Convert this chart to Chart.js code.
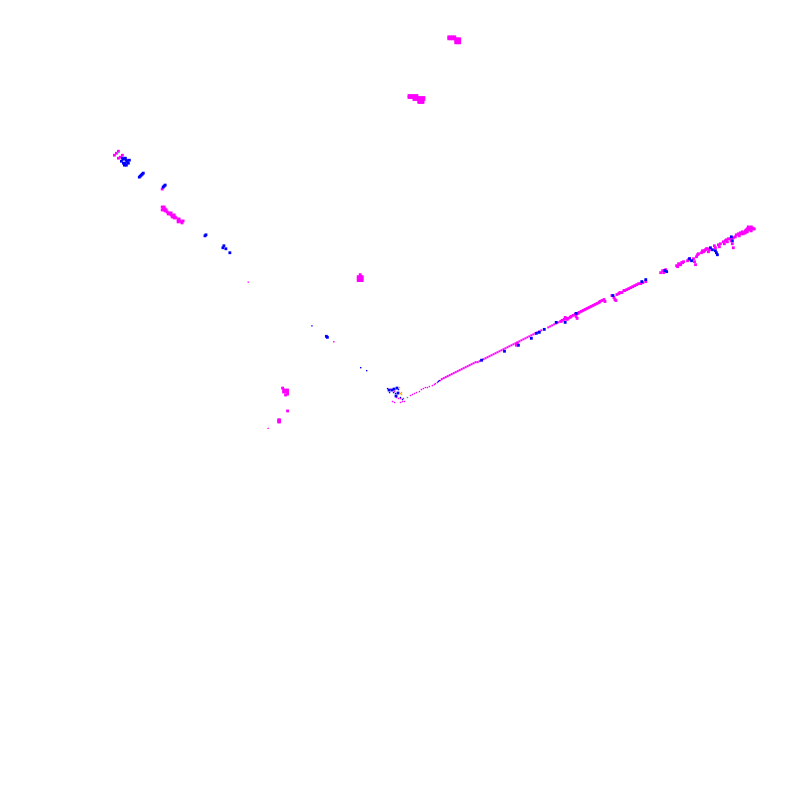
<!DOCTYPE html>
<html><head><meta charset="utf-8">
<script src="https://cdn.jsdelivr.net/npm/chart.js@4"></script>
<style>html,body{margin:0;padding:0;background:#fff}canvas{display:block}</style>
</head><body><canvas id="c" width="800" height="800"></canvas>
<script>
const magentaLineX = [442,444,446,448,450,452,454,456,458,460,462,464,466,468,470,472,474,476,478,480,482,484,486,488,490,492,494,496,498,500,502,504,506,508,510,512,514,516,518,520,522,524,526,528,530,532,534,536,538,540,542,549,551,553,555,557,559,561];
const magentaLineY = [379,378,377,376,375,374,373,372,371,370,369,368,367,366,365,364,363,362,362,361,360,359,358,357,356,355,354,353,352,351,350,349,348,347,346,345,344,343,342,341,340,339,338,337,336,335,334,333,332,331,330,327,326,325,324,323,322,321];

const magentaX = [517,518,
 562,565,566,568,571,574,577,577,578,579,582,586,590,594,598,601,605,606,613,615,616,617,620,623,626,630,634,638,642,647,
 563,567,569,572,576,580,584,588,592,596,600,603,618,621,625,628,632,636,640,644,
 662,664,665,667,678,680,682,684,689,691,695,696,697,699,698,703,704,707,709,710,716,717,720,721,725,726,728,729,732,733,735,734,735,740,741,744,746,747,749,751,753,755,749,751,753,756,747,743,
 679,681,683,685,690,700,705,706,708,711,722,727,730,737,738,742,745,748,750,752,754,750,
 113,115,117,117,119,121,161,162,163,164,166,168,169,170,172,173,174,177,179,180,182,
 161,163,161,164,165,167,170,171,173,175,178,181,177,
 449,451,453,455,449,451,453,455,456,458,460,456,458,460,456,458,460,
 409,411,413,415,417,409,411,413,415,417,414,416,418,420,422,424,414,416,418,420,422,424,419,421,423,419,421,423,
 358,360,362,358,360,362,358,360,362,360,
 283,285,287,283,285,287,285,282,287,287,278,279,278,279];
const magentaY = [345,343,
 321,319,317,319,317,315,313,316,318,313,311,309,307,305,303,301,299,301,295,297,299,300,293,292,290,288,286,284,283,281,
 320,318,318,316,314,312,310,308,306,304,302,300,294,292,290,289,287,285,283,282,
 272,270,272,269,265,263,264,262,260,258,258,261,264,254,256,252,250,249,248,251,245,247,244,246,241,243,239,241,238,240,237,243,247,233,235,231,232,230,231,229,230,228,228,227,226,228,232,233,
 266,264,262,261,259,253,251,250,248,249,243,240,238,236,234,232,233,229,229,228,227,226,
 154,152,150,157,156,154,188,207,209,208,211,212,213,214,215,217,216,219,220,221,220,
 206,206,209,210,209,213,212,216,214,217,218,222,221,
 35,35,35,35,37,37,37,37,37,37,37,39,39,39,41,41,41,
 94,94,94,94,94,96,96,96,96,96,96,96,96,96,96,96,98,98,98,98,98,98,100,100,100,101,101,101,
 276,276,276,278,278,278,280,280,280,274,
 390,390,390,392,392,392,395,388,394,411,420,420,422,422];

const magentaFineX = [390.5,394.5,396.5,398.5,400.5,403.5,404.5,400.5,392.5,394.5,402.5,410.5,412.5,414.5,416.5,419.5,421.5,423.5,425.5,427.5,429.5,432.5,434.5,435.5,437.5,440.5,267.5,247.5,333.5];
const magentaFineY = [389.5,391.5,397.5,398.5,398.5,398.5,401.5,402.5,401.5,402.5,401.5,395.5,394.5,393.5,392.5,391.5,389.5,388.5,387.5,387.5,386.5,385.5,384.5,383.5,382.5,380.5,428.5,281.5,341.5];

const blueX = [482,505,519,532,537,540,545,557,566,577,614,643,647,666,668,691,693,712,714,717,718,719,733,734,
 120,122,124,121,123,124,126,128,125,127,138,140,142,162,164,204,205,222,223,225,229,
 139,141,163,122,125,
 326,327,389,392,394,397,398,396];
const blueY = [360,351,345,338,333,332,329,322,322,313,295,281,279,270,271,258,260,247,249,250,252,254,236,240,
 160,158,157,157,164,162,160,159,159,162,176,174,172,186,184,235,234,247,245,248,252,
 175,173,185,162,164,
 336,337,390,390,389,388,393,396];

const blueFineX = [387.5,389.5,393.5,395.5,398.5,400.5,402.5,438.5,439.5,311.5,360.5,366.5];
const blueFineY = [388.5,392.5,392.5,393.5,389.5,397.5,399.5,381.5,380.5,325.5,367.5,370.5];

const orangeX = [399.5,400.5,401.5,401.5];
const orangeY = [387.5,393.5,394.5,392.5];

const greenX = [407.5,116.5];
const greenY = [397.5,151.5];

const toPts = (xs, ys) => xs.map((x, i) => ({x, y: ys[i]}));
const ds = (xs, ys, color, r) => ({
  data: toPts(xs, ys), pointStyle: 'rect', pointRadius: r, pointHoverRadius: r,
  backgroundColor: color, borderColor: color, borderWidth: 0, showLine: false
});
const big = 2, mid = Math.SQRT2, fine = 1;
new Chart(document.getElementById('c'), {
  type: 'scatter',
  data: { datasets: [
    ds(orangeX, orangeY, '#ffa500', fine),
    ds(greenX, greenY, '#20c080', fine),
    ds(blueFineX, blueFineY, '#0000ff', fine),
    ds(blueX, blueY, '#0000ff', big),
    ds(magentaFineX, magentaFineY, '#ff00ff', fine),
    ds(magentaLineX, magentaLineY, '#ff00ff', mid),
    ds(magentaX, magentaY, '#ff00ff', big)
  ]},
  options: {
    responsive: false, animation: false,
    layout: { padding: 0 },
    plugins: { legend: { display: false }, tooltip: { enabled: false } },
    scales: {
      x: { type: 'linear', display: false, min: 0, max: 800 },
      y: { type: 'linear', display: false, min: 0, max: 800, reverse: true }
    }
  }
});
</script></body></html>
